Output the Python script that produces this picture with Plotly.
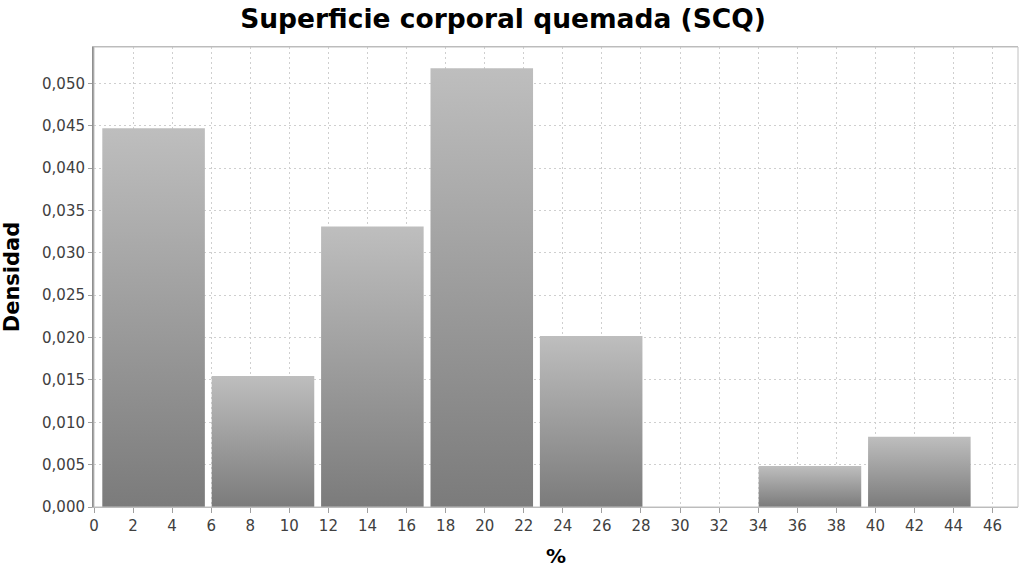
import plotly.graph_objects as go

# Histogram data (bins of width 5.6 starting at 0.25), density values
bin_starts = [0.25, 5.85, 11.45, 17.05, 22.65, 28.25, 33.85, 39.45]
bin_width = 5.6
densities = [0.0447, 0.01545, 0.0331, 0.0518, 0.0202, 0.0, 0.00483, 0.00829]
x_ticks = list(range(0, 48, 2))
y_ticks = [0.000, 0.005, 0.010, 0.015, 0.020, 0.025, 0.030, 0.035, 0.040, 0.045, 0.050]

bar_fraction = 0.9375  # share of the bin covered by the bar

fig = go.Figure()
for start, d in zip(bin_starts, densities):
    if d <= 0:
        continue
    c = start + bin_width / 2
    hw = bin_width * bar_fraction / 2
    fig.add_trace(go.Scatter(
        x=[c - hw, c + hw, c + hw, c - hw, c - hw],
        y=[0, 0, d, d, 0],
        mode="lines",
        line=dict(width=0, color="rgba(0,0,0,0)"),
        fill="toself",
        fillgradient=dict(type="vertical",
                          colorscale=[[0, "#7b7b7b"], [1, "#bebebe"]]),
        hoverinfo="skip",
        showlegend=False,
    ))

fig.update_layout(
    width=1024, height=568,
    paper_bgcolor="white", plot_bgcolor="white",
    separators=",.",
    margin=dict(l=94, r=6, t=47, b=61, autoexpand=False),
    title=dict(text="<b>Superficie corporal quemada (SCQ)</b>",
               x=503 / 1024, xanchor="center", y=1 - 19 / 568, yanchor="middle",
               font=dict(family="DejaVu Sans", size=26.5, color="black")),
    showlegend=False,
)
tickfont = dict(family="DejaVu Sans", size=15, color="#404040")
fig.update_xaxes(
    range=[0, 47.3], tickvals=x_ticks, ticktext=[str(v) for v in x_ticks],
    showgrid=True, gridcolor="#cfcfcf", griddash="2px,3px", gridwidth=1,
    showline=True, linecolor="#b8b8b8", linewidth=1, mirror=True,
    ticks="outside", ticklen=5, tickcolor="#a0a0a0",
    tickfont=tickfont,
    title=dict(text="<b>%</b>", font=dict(family="DejaVu Sans", size=20, color="black"),
               standoff=14),
    zeroline=False,
)
fig.update_yaxes(
    range=[0, 0.0543], tickvals=y_ticks, tickformat=".3f",
    showgrid=True, gridcolor="#cfcfcf", griddash="2px,3px", gridwidth=1,
    showline=True, linecolor="#909090", linewidth=2, mirror=False,
    ticks="outside", ticklen=4, tickcolor="#a0a0a0",
    tickfont=tickfont,
    title=dict(text="<b>Densidad</b>", font=dict(family="DejaVu Sans", size=21, color="black"),
               standoff=17),
    zeroline=False,
)
# light border on top/right
fig.add_shape(type="rect", xref="paper", yref="paper", x0=0, y0=0, x1=1, y1=1,
              line=dict(color="#c0c0c0", width=1), layer="above")

fig.write_html("out.html",
               config={"displayModeBar": False},
               post_script="document.body.style.margin='0';document.body.style.padding='0';")
